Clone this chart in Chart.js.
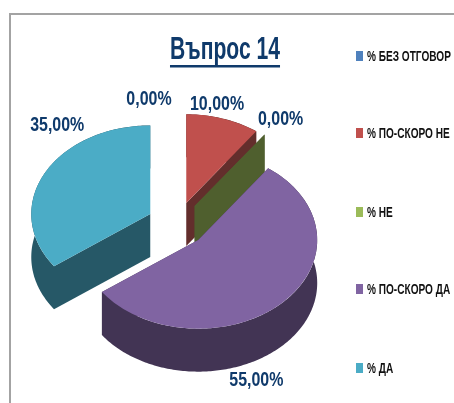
<!DOCTYPE html>
<html>
<head>
<meta charset="utf-8">
<style>html,body{margin:0;padding:0;background:#fff}canvas{display:block}</style>
<script src="https://cdn.jsdelivr.net/npm/chart.js@4"></script>
</head>
<body>
<canvas id="c" width="454" height="403"></canvas>
<script>
const categories = ['% БЕЗ ОТГОВОР', '% ПО-СКОРО НЕ', '% НЕ', '% ПО-СКОРО ДА', '% ДА'];
const values = [0, 10, 0, 55, 35];
const chartTitle = 'Въпрос 14';

const faceColors = ['#4f81bd', '#c0504d', '#9bbb59', '#8064a2', '#4bacc6'];
const wallColors = ['#2a4564', '#632e2c', '#4f5f2e', '#423454', '#265867'];
const labelNudges = [[-28, -14], [-6, -14], [16, -15], [-26, 78], [13, -49]];
const legendRows = [56, 133, 212, 289, 368];

const NAVY = '#0f3a6b';
const SANS = '"Liberation Sans", sans-serif';
const SQUASH = 0.745, DEPTH = 43, EXPLODE = 30;

function squeezedText(c, text, x, y, sx) {
  c.save();
  c.translate(x, y);
  c.scale(sx, 1);
  c.fillText(text, 0, 0);
  c.restore();
}

let titleWrapped = false;

const pie3d = {
  id: 'pie3d',
  beforeDraw(chart) {
    const c = chart.ctx;
    c.save();
    c.strokeStyle = '#a3a3a3';
    c.lineWidth = 2;
    c.beginPath();
    c.moveTo(10, 403); c.lineTo(10, 14); c.lineTo(454, 14);
    c.stroke();
    c.restore();
  },
  afterLayout(chart) {
    const t = chart.titleBlock;
    t.left += 48; t.right += 48;
    if (!titleWrapped) {
      titleWrapped = true;
      const original = t.draw;
      t.draw = function () {
        const c = this.ctx;
        const mx = (this.left + this.right) / 2;
        c.save();
        c.translate(mx, 0);
        c.scale(0.66, 1);
        c.translate(-mx, 0);
        original.call(this);
        c.restore();
      };
    }
  },
  beforeDatasetDraw(chart, args) {
    const c = chart.ctx;
    args.meta.data.forEach((arc, i) => {
      const mid = (arc.startAngle + arc.endAngle) / 2;
      const cx = arc.x + EXPLODE * Math.cos(mid);
      const cy = arc.y + EXPLODE * Math.sin(mid) * SQUASH;
      const r = arc.outerRadius;
      const px = a => cx + r * Math.cos(a);
      const py = a => cy + r * Math.sin(a) * SQUASH;
      c.save();
      c.fillStyle = wallColors[i];
      [arc.startAngle, arc.endAngle].forEach(a => {
        c.beginPath();
        c.moveTo(cx, cy); c.lineTo(px(a), py(a));
        c.lineTo(px(a), py(a) + DEPTH); c.lineTo(cx, cy + DEPTH);
        c.closePath(); c.fill();
      });
      const span = arc.endAngle - arc.startAngle;
      if (span > 0) {
        const n = Math.ceil(span * 60);
        c.beginPath();
        for (let k = 0; k <= n; k++) { const a = arc.startAngle + span * k / n; c.lineTo(px(a), py(a)); }
        for (let k = n; k >= 0; k--) { const a = arc.startAngle + span * k / n; c.lineTo(px(a), py(a) + DEPTH); }
        c.closePath(); c.fill();
      }
      c.restore();
      c.save();
      c.translate(cx, cy);
      c.scale(1, SQUASH);
      c.translate(-arc.x, -arc.y);
      arc.draw(c);
      c.restore();
    });
    return false;
  },
  afterDatasetsDraw(chart) {
    const c = chart.ctx;
    const meta = chart.getDatasetMeta(0);
    c.save();
    c.textAlign = 'center';
    c.textBaseline = 'middle';
    c.fillStyle = NAVY;
    c.font = 'bold 21px ' + SANS;
    meta.data.forEach((arc, i) => {
      const mid = (arc.startAngle + arc.endAngle) / 2;
      const cx = arc.x + EXPLODE * Math.cos(mid);
      const cy = arc.y + EXPLODE * Math.sin(mid) * SQUASH;
      const x = cx + arc.outerRadius * Math.cos(mid) + labelNudges[i][0];
      const y = cy + arc.outerRadius * Math.sin(mid) * SQUASH + labelNudges[i][1];
      squeezedText(c, values[i].toFixed(2).replace('.', ',') + '%', x, y, 0.76);
    });
    // legend
    c.textAlign = 'left';
    c.font = 'bold 14px ' + SANS;
    categories.forEach((name, i) => {
      const y = legendRows[i];
      c.fillStyle = faceColors[i];
      c.fillRect(356, y - 5, 7, 10);
      c.fillStyle = '#111';
      squeezedText(c, name, 367, y + 1, 0.72);
    });
    // title underline
    const t = chart.titleBlock;
    c.font = 'bold 32px ' + SANS;
    const w = c.measureText(chartTitle).width * 0.66;
    const mx = (t.left + t.right) / 2;
    c.fillStyle = NAVY;
    c.fillRect(mx - w / 2, 65, w, 2.5);
    c.restore();
  }
};

new Chart(document.getElementById('c'), {
  type: 'pie',
  data: {
    labels: categories,
    datasets: [{ data: values, backgroundColor: faceColors, borderWidth: 0 }]
  },
  options: {
    responsive: false,
    animation: false,
    events: [],
    radius: 119,
    layout: { padding: { left: 0, right: 100, top: 0, bottom: 31 } },
    plugins: {
      legend: { display: false },
      tooltip: { enabled: false },
      title: {
        display: true,
        text: chartTitle,
        color: NAVY,
        font: { family: SANS, size: 32, weight: 'bold' },
        padding: { top: 31, bottom: 7 }
      }
    }
  },
  plugins: [pie3d]
});
</script>
</body>
</html>
